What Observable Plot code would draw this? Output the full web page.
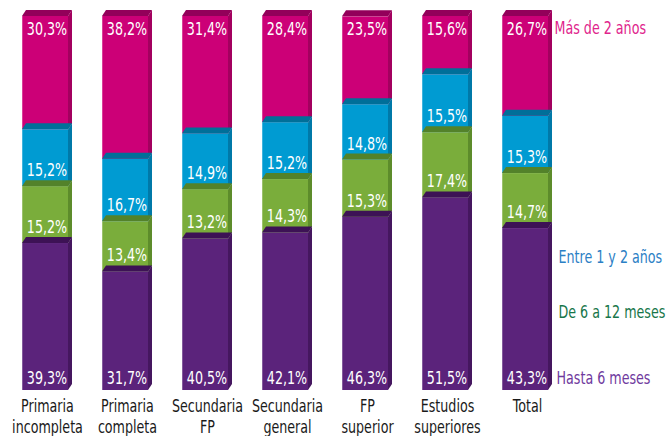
<!DOCTYPE html>
<html><head><meta charset="utf-8">
<script src="https://cdn.jsdelivr.net/npm/d3@7"></script>
<script src="https://cdn.jsdelivr.net/npm/@observablehq/plot@0.6"></script>
<style>body{margin:0;background:#fff}</style>
</head><body><div id="chart"></div>
<script>
const categories = ["Primaria\nincompleta", "Primaria\ncompleta", "Secundaria\nFP", "Secundaria\ngeneral", "FP\nsuperior", "Estudios\nsuperiores", "Total"];
const seriesNames = ["Hasta 6 meses", "De 6 a 12 meses", "Entre 1 y 2 años", "Más de 2 años"];
const hasta6Meses = [39.3, 31.7, 40.5, 42.1, 46.3, 51.5, 43.3];
const de6a12Meses = [15.2, 13.4, 13.2, 14.3, 15.3, 17.4, 14.7];
const entre1y2Anos = [15.2, 16.7, 14.9, 15.2, 14.8, 15.5, 15.3];
const masDe2Anos = [30.3, 38.2, 31.4, 28.4, 23.5, 15.6, 26.7];

const front = ["#5b237b", "#7aad3b", "#009bd2", "#cc0077"];
const sideC = ["#45175f", "#5d8c2b", "#0079a8", "#a3005f"];
const topC  = ["#3d1255", "#53822a", "#006f99", "#93005a"];
const legendC = ["#6f3a9e", "#17764a", "#2b80c5", "#e0248c"];

const seriesValues = [hasta6Meses, de6a12Meses, entre1y2Anos, masDe2Anos];
const rows = [];
categories.forEach((c, i) => {
  let cum = 0;
  seriesValues.forEach((vals, j) => {
    const v = vals[i];
    rows.push({cat: c, j, value: v, y1: cum, y2: cum + v, label: v.toFixed(1).replace(".", ",") + "%"});
    cum += v;
  });
});

const DX = 4, DY = 6;
function bars3d(index, scales) {
  const {x, y} = scales;
  const bw = x.bandwidth();
  const g = d3.create("svg:g");
  const ordered = rows.slice().sort((a, b) => b.j - a.j);
  for (const r of ordered) {
    const xl = x(r.cat), xr = xl + bw, yt = y(r.y2), yb = y(r.y1);
    g.append("rect").attr("x", xl).attr("y", yt).attr("width", bw).attr("height", yb - yt).attr("fill", front[r.j]);
    g.append("polygon").attr("points", `${xr},${yb} ${xr},${yt} ${xr + DX},${yt - DY} ${xr + DX},${yb - DY}`).attr("fill", sideC[r.j]);
    g.append("polygon").attr("points", `${xl},${yt} ${xr},${yt} ${xr + DX},${yt - DY} ${xl + DX},${yt - DY}`).attr("fill", topC[r.j]);
    g.append("line").attr("x1", xl + 0.5).attr("x2", xl + 0.5).attr("y1", yt).attr("y2", yb).attr("stroke", "#ffffff").attr("stroke-opacity", 0.25);
  }
  return g.node();
}

const font = "'Liberation Sans Narrow', 'DejaVu Sans Condensed', sans-serif";
const FS = 17;
const txt = {fill: "white", fontSize: FS, fontFamily: font, x: "cat", dx: 1.5, textAnchor: "middle", text: "label"};

const chart = Plot.plot({
  width: 666,
  height: 436,
  x: {type: "band", domain: categories, range: [5, 565], paddingInner: 0.425, paddingOuter: 0.2125, axis: null},
  y: {domain: [0, 100], range: [390, 16], axis: null},
  style: {fontFamily: font, background: "white"},
  marks: [
    bars3d,
    Plot.text(rows.filter(r => r.j === 3), {...txt, y: "y2", dy: 13}),
    Plot.text(rows.filter(r => r.j === 1 || r.j === 2), {...txt, y: "y1", dy: -16}),
    Plot.text(rows.filter(r => r.j === 0), {...txt, y: "y1", dy: -12}),
    Plot.text(categories, {x: d => d, y: 0, dy: 6, dx: 2, lineAnchor: "top", lineHeight: 1.25, fontSize: FS, fontFamily: font, fill: "#1a1a1a", text: d => d}),
    Plot.text([seriesNames[3]], {x: () => "Total", y: () => 100, dx: 29, dy: 12, textAnchor: "start", fontSize: FS, fontFamily: font, fill: legendC[3]}),
    Plot.text([seriesNames[2]], {x: () => "Total", y: () => 35.6, dx: 33, textAnchor: "start", fontSize: FS, fontFamily: font, fill: legendC[2]}),
    Plot.text([seriesNames[1]], {x: () => "Total", y: () => 20.9, dx: 33, textAnchor: "start", fontSize: FS, fontFamily: font, fill: legendC[1]}),
    Plot.text([seriesNames[0]], {x: () => "Total", y: () => 0, dx: 31, dy: -12, textAnchor: "start", fontSize: FS, fontFamily: font, fill: legendC[0]})
  ]
});
// horizontally condense the text (the reference uses a condensed typeface)
chart.querySelectorAll("text").forEach(t => {
  const tr = t.getAttribute("transform");
  if (tr) t.setAttribute("transform", tr + " scale(0.83,1)");
});
document.getElementById("chart").appendChild(chart);
</script>
</body></html>
